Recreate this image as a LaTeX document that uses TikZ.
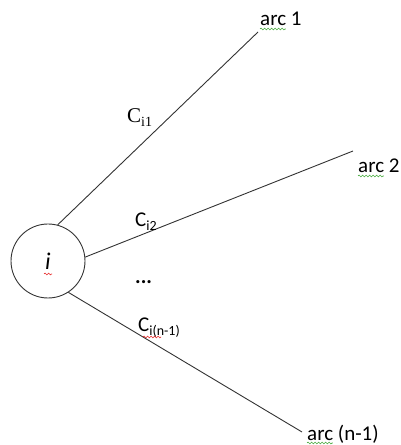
\documentclass[tikz,border=0pt]{standalone}
\usepackage{fontspec}
\setmainfont{Carlito}
\newfontfamily\serifcost{Liberation Serif}
\usepackage{tikz}
\usetikzlibrary{positioning,decorations.pathmorphing}
\definecolor{spellgreen}{RGB}{70,170,60}
\definecolor{spellred}{RGB}{230,40,40}
\newcommand\sub[1]{\raisebox{-3.5pt}{\fontsize{14}{16}\selectfont #1}}
\newlength\arcwd

\begin{document}
\settowidth{\arcwd}{\fontsize{21}{25}\selectfont arc}%
\begin{tikzpicture}[x=1pt,y=1pt,
lbl/.style={font=\fontsize{21}{25}\selectfont,inner sep=0pt},
cost/.style={font=\fontsize{21}{24}\selectfont,inner sep=0pt},
arcline/.style={draw=black!80,line width=0.9pt},
spell/.style={decorate,decoration={snake,segment length=3.5pt,amplitude=0.9pt},line width=0.6pt}]
\useasboundingbox (0,0) rectangle (400,445);
\node[circle,draw=black!80,line width=0.9pt,minimum size=74pt,font=\fontsize{24}{28}\selectfont] (i) at (48,184) {\itshape i};
\coordinate (e1) at (258,413);
\coordinate (e2) at (353,294);
\coordinate (e3) at (302,13);
\node[lbl,anchor=base west] (arc1) at (260,419) {arc 1};
\node[lbl,anchor=base west] (arc2) at (358,272) {arc 2};
\node[lbl,anchor=base west] (arcn) at (307,5) {arc (n-1)};
\draw[arcline] (i.75) -- (e1);
\draw[arcline] (i.6) -- (e2);
\draw[arcline] (i.-57) -- (e3);
\node[cost,anchor=base west,font=\fontsize{21}{24}\serifcost] (c1) at (127,322) {C\sub{i1}};
\node[cost,anchor=base west] (c2) at (135,218) {C\sub{i2}};
\node[cost,anchor=base west] (dots) at (135,161) {\textbf{...}};
\node[cost,anchor=base west] (cn) at (138,113) {C\sub{i(n-1)}};
% spelling marks
\draw[spell,spellgreen] ([yshift=-3pt]arc1.base west) -- ++(\arcwd,0);
\draw[spell,spellgreen] ([yshift=-3pt]arc2.base west) -- ++(\arcwd,0);
\draw[spell,spellgreen] ([yshift=-3pt]arcn.base west) -- ++(\arcwd,0);
\draw[spell,spellred] ([xshift=-4pt,yshift=-13pt]i.center) -- ++(8,0);
\draw[spell,spellred] ([xshift=5pt,yshift=-5pt]cn.base west) -- ++(18,0);
\end{tikzpicture}
\end{document}
